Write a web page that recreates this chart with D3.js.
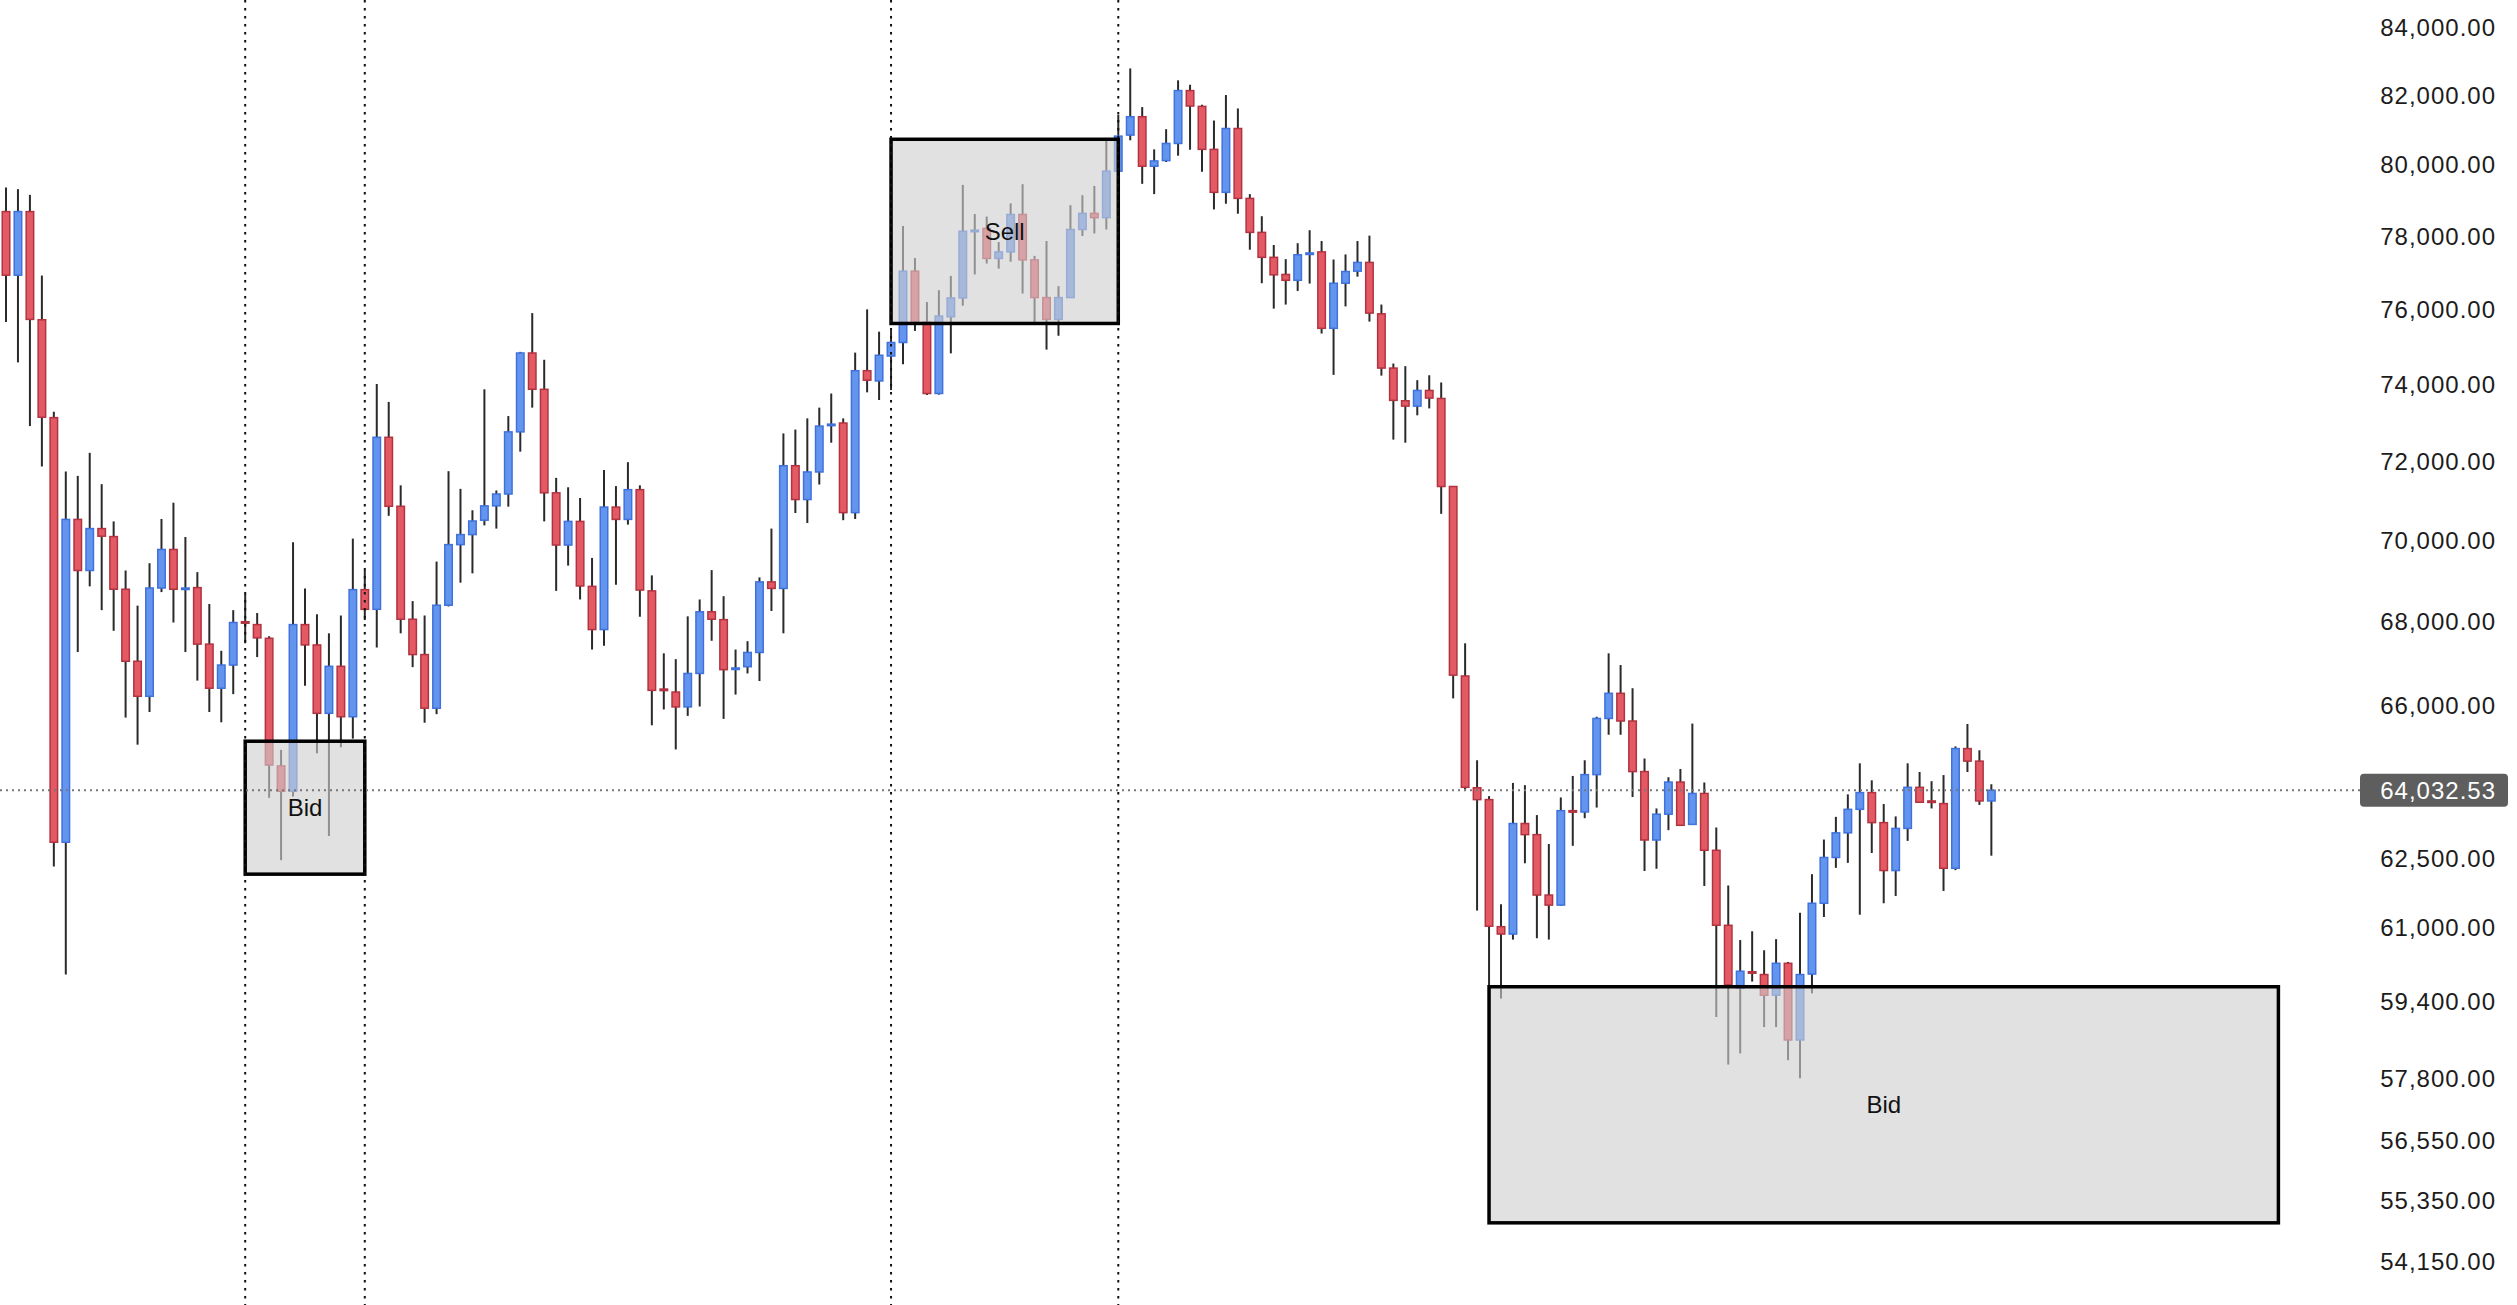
<!DOCTYPE html>
<html>
<head>
<meta charset="utf-8">
<script src="https://d3js.org/d3.v7.min.js"></script>
<style>
  body { margin: 0; background: #fff; }
  svg { display: block; font-family: "Liberation Sans", Arial, sans-serif; }
</style>
</head>
<body>
<div id="vis"></div>
<script>
// daily candles (open / high / low / close)
var opens = [78670,76910,78670,75700,73110,62860,70510,69240,70280,70080,68780,67040,66210,68810,69760,68780,68820,67450,66400,66950,
  67990,67920,67590,64590,64010,67920,67430,65810,66920,65730,68770,68290,72600,70840,68050,67200,65930,68390,69880,70130,
  70490,70850,71150,72740,74810,73850,71180,69870,70460,68850,67800,70820,70510,71260,68740,66380,66310,65960,66750,68230,
  68040,66860,66910,67250,68960,68800,71870,71010,71710,72920,72970,70680,74340,74070,74730,75090,77020,75630,73740,75780,
  76290,78130,78200,77370,77550,78590,77330,76300,75710,76300,78170,78620,78500,79810,80840,81370,79950,80110,80600,82130,
  81670,80430,79210,81030,79040,78090,77400,76930,76770,77500,77550,75470,76690,77020,77260,75860,74410,73550,73410,73820,
  73610,71340,66690,64090,63820,61000,60840,63280,63030,61690,61470,63570,63540,64390,65690,66280,65630,64460,62910,63490,
  64220,63260,63960,62680,61030,59680,60030,59970,59530,60210,58590,59980,61510,62520,63070,63600,63980,63300,62230,63170,
  64100,63790,63730,62280,64990,64700,63790];
var highs = [79350,79300,79140,76900,73260,71720,71610,72200,71400,70460,69240,68380,69420,70520,70930,70070,69200,68420,67290,68270,
  68670,68200,67640,64960,69940,68800,68170,67710,68140,70030,69250,73990,73520,71370,68490,68140,69460,71730,71280,70740,
  73850,71240,73150,74840,75880,74630,71560,71320,71050,69550,71760,71350,71960,71370,69120,67230,67090,68120,68530,69250,
  68610,67320,67520,69070,70280,72700,72800,73090,73370,73740,73090,74820,75980,75380,75420,78270,77380,76180,76500,76890,
  79420,78600,78530,77820,78900,79440,77440,77850,76610,78850,79130,79390,80670,81420,82780,81650,80430,81010,82430,82300,
  81720,81260,82000,81610,79160,78540,77740,77350,77790,78150,77850,77340,77480,77850,78000,76110,74530,74460,74090,74220,
  74030,71350,67470,64720,63900,61490,64200,64150,63470,62820,63870,64360,64720,65730,67230,66950,66400,64760,63620,64330,
  64520,65570,64210,63190,61900,60710,60900,60490,60730,60240,61300,62150,62920,63430,63940,64650,64260,63720,63440,64650,
  64450,64240,64380,65040,65560,64950,64170];
var lows = [75640,74560,72890,71850,62320,59970,67260,68850,68270,67770,65710,65080,65840,68710,67970,67260,66580,65840,65600,66260,
  67470,67140,63860,62460,63890,66460,64880,63000,65020,65220,68030,67370,70600,67710,66900,65590,65790,68360,68940,69170,
  70360,70280,70830,72230,73370,70460,68740,69360,68530,67320,67410,68890,70380,68110,65530,65900,64970,65750,65970,67530,
  65680,66250,66750,66570,68250,67710,70670,70420,71390,72460,70490,70520,73770,73570,73830,74510,75400,73700,73710,74800,
  76080,76930,77230,77090,77280,76410,75630,74900,75270,76290,77990,78060,78170,79700,80690,79450,79160,80070,80250,80420,
  79790,78730,78890,78610,77610,76690,76000,76110,76480,76680,75330,74230,76060,76870,75650,74210,72540,72460,73170,73350,
  70650,66160,64050,61350,59430,59460,60720,62390,60750,60720,61460,62780,63400,63640,65310,65310,63880,62220,62270,63130,
  63230,63250,61890,59070,58080,58310,59820,58860,58860,58170,57800,59570,61210,62290,62400,61260,62620,61510,61670,62890,
  63750,63620,61780,62240,64450,63700,62560];
var closes = [76910,78670,75710,73120,62860,70510,69240,70280,70090,68780,67040,66210,68810,69760,68780,68810,67450,66400,66950,67970,
  67970,67600,64610,64010,67920,67430,65810,66920,65730,68770,68290,72600,70840,68050,67200,65930,68390,69880,70130,70470,
  70850,71150,72740,74810,73850,71180,69870,70460,68860,67800,70820,70510,71260,68760,66350,66360,65960,66750,68230,68050,
  66840,66880,67250,68960,68800,71870,71010,71710,72890,72940,70680,74340,74090,74750,75090,77020,75630,73740,75800,76290,
  78120,78150,77370,77550,78590,77330,76300,75710,76300,78170,78620,78500,79810,80810,81370,79950,80100,80600,82130,81680,
  80430,79210,81030,79040,78090,77400,76920,76770,77470,77520,75470,76690,77010,77260,75880,74410,73560,73410,73820,73620,
  71340,66710,64100,63820,61010,60840,63280,63030,61690,61470,63570,63550,64390,65690,66280,65630,64460,62910,63490,64220,
  63240,63960,62680,61030,59750,60040,60010,59530,60210,58590,59970,61510,62520,63070,63600,63980,63300,62230,63170,64100,
  63760,63770,62280,64990,64700,63790,64032.53];

var lastPrice = 64032.53;
var priceTicks = [84000, 82000, 80000, 78000, 76000, 74000, 72000, 70000, 68000, 66000,
  62500, 61000, 59400, 57800, 56550, 55350, 54150];

// marked zones: candle index range and price range
var zoneLabels = ["Bid", "Sell", "Bid"];
var zoneFrom = [20, 74, 124];
var zoneTo = [30, 93, 190];
var zoneTop = [65160, 80720, 59710];
var zoneBottom = [62150, 75600, 54900];
// which zone edges get a full-height dotted marker
var markerCandles = [20, 30, 74, 93];

var W = 2517, H = 1305;

var svg = d3.select("#vis").append("svg")
  .attr("width", W)
  .attr("height", H);

var x = d3.scaleLinear()
  .domain([0, opens.length - 1])
  .range([6, 6 + 11.96 * (opens.length - 1)]);

var y = d3.scaleLog()
  .domain([54150, 84000])
  .range([1261.5, 27.3]);

var candles = opens.map(function(o, i) {
  return { i: i, o: o, h: highs[i], l: lows[i], c: closes[i] };
});

// candles
var cg = svg.append("g");
cg.selectAll("line.wick")
  .data(candles)
  .enter().append("line")
  .attr("class", "wick")
  .attr("x1", function(d) { return x(d.i); })
  .attr("x2", function(d) { return x(d.i); })
  .attr("y1", function(d) { return y(d.h); })
  .attr("y2", function(d) { return y(d.l); })
  .attr("stroke", "#2a2a2a")
  .attr("stroke-width", 2);

cg.selectAll("rect.body")
  .data(candles)
  .enter().append("rect")
  .attr("class", "body")
  .attr("x", function(d) { return x(d.i) - 3.75; })
  .attr("width", 7.5)
  .attr("y", function(d) { return y(Math.max(d.o, d.c)); })
  .attr("height", function(d) {
    return Math.max(1.5, y(Math.min(d.o, d.c)) - y(Math.max(d.o, d.c)));
  })
  .attr("fill", function(d) { return d.c >= d.o ? "#6495ee" : "#e35a65"; })
  .attr("stroke", function(d) { return d.c >= d.o ? "#3f72dc" : "#b23340"; })
  .attr("stroke-width", 1.5);

// zones
var zg = svg.append("g");
zoneLabels.forEach(function(lbl, k) {
  var x0 = x(zoneFrom[k]), x1 = x(zoneTo[k]);
  var y0 = y(zoneTop[k]), y1 = y(zoneBottom[k]);
  zg.append("rect")
    .attr("x", x0)
    .attr("y", y0)
    .attr("width", x1 - x0)
    .attr("height", y1 - y0)
    .attr("fill", "#cfcfcf")
    .attr("fill-opacity", 0.62)
    .attr("stroke", "#000")
    .attr("stroke-width", 3.5);
});

// dotted markers
svg.append("g").selectAll("line")
  .data(markerCandles)
  .enter().append("line")
  .attr("x1", function(d) { return x(d); })
  .attr("x2", function(d) { return x(d); })
  .attr("y1", 0)
  .attr("y2", H)
  .attr("stroke", "#111")
  .attr("stroke-width", 2)
  .attr("stroke-dasharray", "2.5,5.5");

// last price line
svg.append("line")
  .attr("x1", 0)
  .attr("x2", 2360)
  .attr("y1", y(lastPrice))
  .attr("y2", y(lastPrice))
  .attr("stroke", "#777")
  .attr("stroke-width", 2)
  .attr("stroke-dasharray", "2,4");

// zone labels
zoneLabels.forEach(function(lbl, k) {
  svg.append("text")
    .attr("x", (x(zoneFrom[k]) + x(zoneTo[k])) / 2)
    .attr("y", (y(zoneTop[k]) + y(zoneBottom[k])) / 2)
    .attr("dy", "0.35em")
    .attr("text-anchor", "middle")
    .style("font-size", "24px")
    .style("fill", "#111")
    .text(lbl);
});

// price axis
var axis = svg.append("g")
  .attr("transform", "translate(2496,0)")
  .call(d3.axisRight(y)
    .tickValues(priceTicks)
    .tickSize(0)
    .tickFormat(d3.format(",.2f")));
axis.select(".domain").remove();
axis.selectAll("text")
  .attr("x", 0)
  .attr("dy", "0.35em")
  .attr("text-anchor", "end")
  .style("font-family", "'Liberation Sans', Arial, sans-serif")
  .style("font-size", "24px")
  .style("letter-spacing", "1px")
  .style("fill", "#1c1c1c");

// last price tag
svg.append("rect")
  .attr("x", 2360)
  .attr("y", y(lastPrice) - 16.5)
  .attr("width", 148)
  .attr("height", 33)
  .attr("rx", 4)
  .attr("fill", "#5e5e5e");
svg.append("text")
  .attr("x", 2496)
  .attr("y", y(lastPrice))
  .attr("dy", "0.35em")
  .attr("text-anchor", "end")
  .style("font-size", "24px")
  .style("letter-spacing", "1px")
  .style("fill", "#fff")
  .text(d3.format(",.2f")(lastPrice));
</script>
</body>
</html>
